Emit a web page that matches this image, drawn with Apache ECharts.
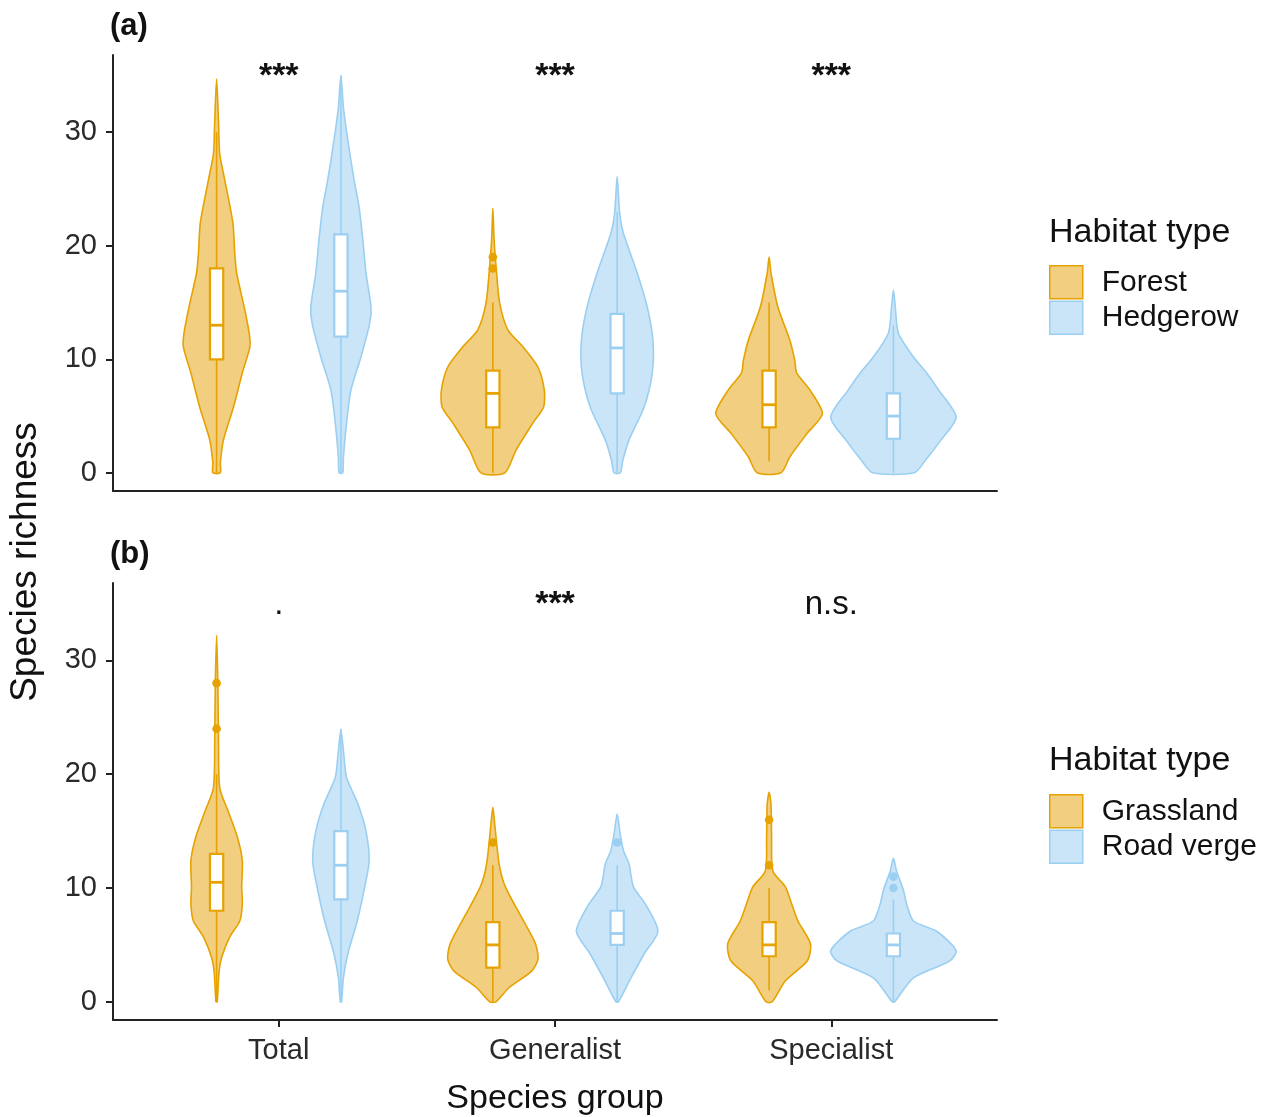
<!DOCTYPE html>
<html>
<head>
<meta charset="utf-8">
<script src="https://cdn.jsdelivr.net/npm/echarts@6/dist/echarts.min.js"></script>
<style>html,body{margin:0;padding:0;background:#fff}#chart{width:1268px;height:1117px}</style>
</head>
<body>
<div id="chart"></div>
<script>
// ---------- data ----------
const categories = ['Total', 'Generalist', 'Specialist'];
const yTicks = [0, 10, 20, 30];

// violin profiles: [species richness, relative density]
const forestProfiles = [
  [[0,.06],[0.9,.06],[2.9,.11],[5.8,.27],[8.8,.41],[11.1,.53],[12.3,.52],[14.6,.44],[17.6,.32],[19.3,.29],[22,.26],[25.8,.13],[28.1,.05],[31,.03],[34.7,0]],
  [[0,.19],[2,.37],[4.4,.64],[5.8,.81],[7.3,.82],[9.3,.72],[11.1,.48],[12.6,.24],[14.9,.11],[17.6,.06],[20.5,.02],[23.3,0]],
  [[0,.19],[1.4,.33],[3.5,.61],[5.2,.85],[7.3,.65],[8.8,.44],[9.9,.41],[11.7,.33],[14.6,.14],[17.6,.03],[19,0]]
];
const hedgerowProfiles = [
  [[0,.03],[1.4,.04],[4.4,.09],[7.3,.16],[10.2,.32],[13.2,.46],[14.6,.48],[17.6,.40],[20.5,.35],[23.4,.29],[25.8,.21],[29.3,.11],[32.2,.04],[35,0]],
  [[0,.05],[1.1,.09],[2.9,.19],[5.8,.43],[8.8,.56],[11.7,.57],[14.6,.48],[17.6,.32],[21.1,.10],[22.9,.04],[26.1,0]],
  [[0,.33],[1.1,.51],[2.9,.76],[4.9,1.0],[7.3,.72],[8.8,.53],[10.2,.32],[12.3,.08],[14.6,.03],[16.1,0]]
];
const grasslandProfiles = [
  [[0,.01],[2.7,.04],[3.9,.08],[5.7,.21],[7.1,.37],[8.6,.41],[10.1,.40],[12.4,.41],[14.5,.33],[16.8,.18],[18.8,.05],[23.2,.03],[28,.02],[32.2,0]],
  [[0,.05],[1.3,.27],[2.7,.62],[3.75,.72],[5.1,.68],[7.1,.49],[10.1,.20],[12.1,.10],[15.6,.03],[17.1,0]],
  [[0,.05],[1.85,.26],[3.6,.61],[5.1,.66],[7.1,.46],[8.6,.36],[10.1,.26],[11.5,.06],[14.4,.04],[17.4,.03],[18.4,0]]
];
const roadVergeProfiles = [
  [[0,.01],[2.1,.04],[4.2,.11],[7.1,.26],[10.1,.38],[12.4,.45],[15,.40],[17.4,.27],[19.7,.09],[21.5,.05],[23.9,0]],
  [[0,.02],[2.1,.22],[4.2,.43],[6.2,.65],[8.6,.45],[10.1,.26],[12.1,.19],[13.3,.10],[14.7,.05],[16.5,0]],
  [[0,.02],[2.1,.32],[3.6,.90],[4.5,1.0],[6.2,.69],[7.1,.32],[8.6,.21],[9.8,.16],[11.5,.05],[12.6,0]]
];

// box statistics: [lower whisker, Q1, median, Q3, upper whisker]
const forestBoxes = [[0,10,13,18,30],[0,4,7,9,15],[1,4,6,9,15]];
const hedgerowBoxes = [[0,12,16,21,35],[0,7,11,14,23],[0,3,5,7,13]];
const grasslandBoxes = [[0,8,10.5,13,20],[0,3,5,7,12],[1,4,5,7,10]];
const roadVergeBoxes = [[0,9,12,15,24],[0,5,6,8,12],[0,4,5,6,9]];

// outliers
const forestOutliers = [[], [18,19], []];
const hedgerowOutliers = [[], [], []];
const grasslandOutliers = [[24,28], [14], [12,16]];
const roadVergeOutliers = [[], [14], [10,11]];

// significance labels
const sigA = ['***', '***', '***'];
const sigB = ['.', '***', 'n.s.'];
const sigY = 34.9;

// ---------- styling ----------
const ORANGE = '#E6A200', ORANGE_FILL = '#F1CE80';
const BLUE = '#9ACFF2', BLUE_FILL = '#CBE5F8';
const DODGE = 0.225, MAXW = 0.227, BOXW = 0.024;
const FONT = 'Liberation Sans, Arial, sans-serif';

function violinRenderer(profiles, boxes, outliers, offset, fill, stroke) {
  return function (params, api) {
    const i = params.dataIndex;
    const cx = api.value(0) + offset;
    const prof = profiles[i];
    const right = prof.map(p => api.coord([cx + p[1] * MAXW, p[0]]));
    const left = prof.slice().reverse().filter(p => p[1] > 0).map(p => api.coord([cx - p[1] * MAXW, p[0]]));
    const pts = right.concat(left);
    const b = boxes[i];
    const children = [];
    children.push({type: 'polygon', shape: {points: pts, smooth: 0.25}, style: {fill: fill, stroke: stroke, lineWidth: 1.6}});
    const w0 = api.coord([cx, b[0]]), w1 = api.coord([cx, b[4]]);
    children.push({type: 'line', shape: {x1: w0[0], y1: w0[1], x2: w1[0], y2: w1[1]}, style: {stroke: stroke, lineWidth: 1.6}});
    const tl = api.coord([cx - BOXW, b[3]]), br = api.coord([cx + BOXW, b[1]]);
    children.push({type: 'rect', shape: {x: tl[0], y: tl[1], width: br[0] - tl[0], height: br[1] - tl[1]}, style: {fill: '#fff', stroke: stroke, lineWidth: 2.2}});
    const m0 = api.coord([cx - BOXW, b[2]]), m1 = api.coord([cx + BOXW, b[2]]);
    children.push({type: 'line', shape: {x1: m0[0], y1: m0[1], x2: m1[0], y2: m1[1]}, style: {stroke: stroke, lineWidth: 2.8}});
    outliers[i].forEach(o => {
      const c = api.coord([cx, o]);
      children.push({type: 'circle', shape: {cx: c[0], cy: c[1], r: 4.3}, style: {fill: stroke}});
    });
    return {type: 'group', children: children};
  };
}

function sigRenderer(labels) {
  return function (params, api) {
    const c = api.coord([api.value(0), sigY]);
    const t = labels[params.dataIndex];
    const isStar = t.indexOf('*') >= 0;
    return {type: 'text', x: c[0], y: c[1], style: {
      text: t, align: 'center', verticalAlign: 'middle',
      font: (isStar ? 'bold 34px ' : '33px ') + FONT, fill: '#111'
    }};
  };
}

const catData = categories.map((c, i) => [i + 1]);

function yAxis(gridIndex) {
  return {
    type: 'value', gridIndex: gridIndex, min: -1.6, max: 36.8,
    splitLine: {show: false},
    axisLine: {show: true, onZero: false, lineStyle: {color: '#222', width: 2}},
    axisTick: {show: true, length: 7, customValues: yTicks, lineStyle: {color: '#222', width: 2}},
    axisLabel: {customValues: yTicks, margin: 16, fontSize: 29, color: '#2a2a2a', fontFamily: FONT}
  };
}

const option = {
  backgroundColor: '#fff',
  animation: false,
  title: [
    {text: '(a)', left: 110, top: 11, padding: 0, textStyle: {fontSize: 31, fontWeight: 'bold', color: '#111', fontFamily: FONT}},
    {text: '(b)', left: 110, top: 539, padding: 0, textStyle: {fontSize: 31, fontWeight: 'bold', color: '#111', fontFamily: FONT}},
    {text: 'Habitat type', left: 1049, top: 216, padding: 0, textStyle: {fontSize: 34, fontWeight: 'normal', color: '#111', fontFamily: FONT}},
    {text: 'Habitat type', left: 1049, top: 744, padding: 0, textStyle: {fontSize: 34, fontWeight: 'normal', color: '#111', fontFamily: FONT}}
  ],
  legend: [
    {orient: 'vertical', left: 1049, top: 265, itemWidth: 33, itemHeight: 33, itemGap: 1, padding: 0, selectedMode: false,
     textStyle: {fontSize: 30, color: '#111', fontFamily: FONT, padding: [0, 0, 0, 14]},
     data: [
       {name: 'Forest', icon: 'rect', itemStyle: {color: ORANGE_FILL, borderColor: ORANGE, borderWidth: 1.5}},
       {name: 'Hedgerow', icon: 'rect', itemStyle: {color: BLUE_FILL, borderColor: BLUE, borderWidth: 1.5}}
     ]},
    {orient: 'vertical', left: 1049, top: 794, itemWidth: 33, itemHeight: 33, itemGap: 1, padding: 0, selectedMode: false,
     textStyle: {fontSize: 30, color: '#111', fontFamily: FONT, padding: [0, 0, 0, 14]},
     data: [
       {name: 'Grassland', icon: 'rect', itemStyle: {color: ORANGE_FILL, borderColor: ORANGE, borderWidth: 1.5}},
       {name: 'Road verge', icon: 'rect', itemStyle: {color: BLUE_FILL, borderColor: BLUE, borderWidth: 1.5}}
     ]}
  ],
  grid: [
    {left: 113, top: 55, width: 884, height: 436},
    {left: 113, top: 583, width: 884, height: 437}
  ],
  xAxis: [
    {type: 'value', gridIndex: 0, min: 0.4, max: 3.6, splitLine: {show: false},
     axisLine: {show: true, onZero: false, lineStyle: {color: '#222', width: 2}}, axisTick: {show: false}, axisLabel: {show: false}},
    {type: 'value', gridIndex: 1, min: 0.4, max: 3.6, splitLine: {show: false},
     axisLine: {show: true, onZero: false, lineStyle: {color: '#222', width: 2}},
     axisTick: {show: true, length: 7, customValues: [1, 2, 3], lineStyle: {color: '#222', width: 2}},
     axisLabel: {customValues: [1, 2, 3], formatter: v => categories[Math.round(v) - 1], margin: 16, fontSize: 29, color: '#2a2a2a', fontFamily: FONT},
     name: 'Species group', nameLocation: 'middle', nameGap: 62,
     nameTextStyle: {fontSize: 34, color: '#111', fontFamily: FONT}}
  ],
  yAxis: [yAxis(0), yAxis(1)],
  graphic: [
    {type: 'text', x: 26, y: 562, rotation: Math.PI / 2,
     style: {text: 'Species richness', align: 'center', verticalAlign: 'middle', font: '37px ' + FONT, fill: '#111'}}
  ],
  series: [
    {name: 'Forest', type: 'custom', xAxisIndex: 0, yAxisIndex: 0, data: catData, itemStyle: {color: ORANGE_FILL},
     renderItem: violinRenderer(forestProfiles, forestBoxes, forestOutliers, -DODGE, ORANGE_FILL, ORANGE)},
    {name: 'Hedgerow', type: 'custom', xAxisIndex: 0, yAxisIndex: 0, data: catData, itemStyle: {color: BLUE_FILL},
     renderItem: violinRenderer(hedgerowProfiles, hedgerowBoxes, hedgerowOutliers, DODGE, BLUE_FILL, BLUE)},
    {name: 'Grassland', type: 'custom', xAxisIndex: 1, yAxisIndex: 1, data: catData, itemStyle: {color: ORANGE_FILL},
     renderItem: violinRenderer(grasslandProfiles, grasslandBoxes, grasslandOutliers, -DODGE, ORANGE_FILL, ORANGE)},
    {name: 'Road verge', type: 'custom', xAxisIndex: 1, yAxisIndex: 1, data: catData, itemStyle: {color: BLUE_FILL},
     renderItem: violinRenderer(roadVergeProfiles, roadVergeBoxes, roadVergeOutliers, DODGE, BLUE_FILL, BLUE)},
    {name: 'sigA', type: 'custom', xAxisIndex: 0, yAxisIndex: 0, data: catData, renderItem: sigRenderer(sigA)},
    {name: 'sigB', type: 'custom', xAxisIndex: 1, yAxisIndex: 1, data: catData, renderItem: sigRenderer(sigB)}
  ]
};

const chart = echarts.init(document.getElementById('chart'), null, {renderer: 'canvas'});
chart.setOption(option);
</script>
</body>
</html>
